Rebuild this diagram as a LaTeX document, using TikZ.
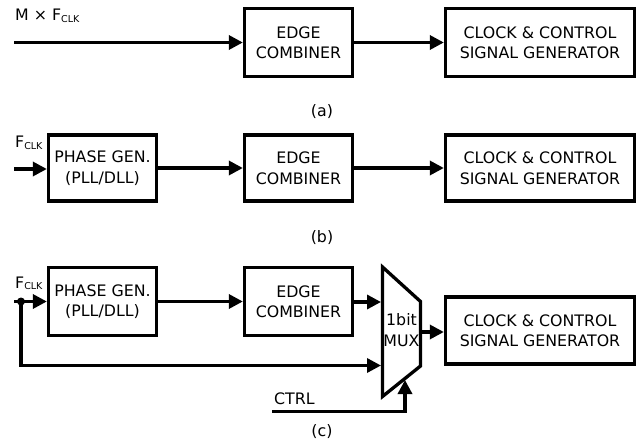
\documentclass[tikz,border=0pt]{standalone}
\usepackage{fontspec}
\setmainfont{DejaVu Sans}
\usetikzlibrary{arrows.meta}
\newcommand{\fclk}{F\raisebox{-1.5pt}{\fontsize{9.5}{9.5}\selectfont CLK}}
\tikzset{
  x=1pt, y=-1pt,
  blk/.style={draw, line width=3.3pt, align=center, inner sep=0pt,
              font=\fontsize{15.8}{20.5}\selectfont},
  wire/.style={line width=3.3pt, -{Triangle[length=14pt,width=14pt]}},
  plain/.style={line width=3.3pt},
  lbl/.style={font=\fontsize{15.8}{18}\selectfont, inner sep=0pt},
  caption/.style={font=\fontsize{15.8}{18}\selectfont, inner sep=0pt},
}
\begin{document}
\begin{tikzpicture}
\useasboundingbox (0,0) rectangle (641,444);

% ---------------- (a) ----------------
\coordinate (ina) at (14,42.5);
\node[blk, minimum width=108pt, minimum height=68pt] (eca) at (298.5,42.5) {EDGE\\COMBINER};
\node[blk, minimum width=189pt, minimum height=68pt] (cka) at (540,42.5) {CLOCK \& CONTROL\\SIGNAL GENERATOR};
\node[lbl, anchor=base west] (la) at (15,21) {M × \fclk};
\draw[wire] (ina) -- (eca.west);
\draw[wire] (eca.east) -- (cka.west);
\node[caption] (capa) at (322,112) {(a)};

% ---------------- (b) ----------------
\coordinate (inb) at (14,169);
\node[blk, minimum width=108pt, minimum height=66pt] (pgb) at (102.5,168) {PHASE GEN.\\(PLL/DLL)};
\node[blk, minimum width=108pt, minimum height=66pt] (ecb) at (298.5,168) {EDGE\\COMBINER};
\node[blk, minimum width=189pt, minimum height=66pt] (ckb) at (540,168) {CLOCK \& CONTROL\\SIGNAL GENERATOR};
\node[lbl, anchor=base west] (lb) at (15,148) {\fclk};
\draw[wire] (inb) -- (inb -| pgb.west);
\draw[wire] (pgb.east) -- (ecb.west);
\draw[wire] (ecb.east) -- (ckb.west);
\node[caption] (capb) at (322,238) {(b)};

% ---------------- (c) ----------------
\coordinate (inc) at (14,301.5);
\coordinate (tap) at (21,301.5);
\node[blk, minimum width=108pt, minimum height=68pt] (pgc) at (102.5,301.5) {PHASE GEN.\\(PLL/DLL)};
\node[blk, minimum width=108pt, minimum height=68pt] (ecc) at (298.5,301.5) {EDGE\\COMBINER};
\node[blk, minimum width=189pt, minimum height=67pt] (ckc) at (540,330.5) {CLOCK \& CONTROL\\SIGNAL GENERATOR};
\node[lbl, anchor=base west] (lc) at (15,288) {\fclk};

% 1-bit multiplexer (trapezoid)
\coordinate (mtl) at (382.5,267);
\coordinate (mtr) at (420.5,301.5);
\coordinate (mbr) at (420.5,366);
\coordinate (mbl) at (382.5,396.5);
\draw[plain, line join=miter] (mtl) -- (mtr) -- (mbr) -- (mbl) -- cycle;
\node[blk, draw=none] (mux) at (401.5,330) {1bit\\MUX};
\coordinate (muxa) at (381,302);
\coordinate (muxb) at (381,365.5);
\coordinate (muxo) at (422,332);
\coordinate (muxs) at (405,380);
\coordinate (ctrl) at (272,411.5);
\node[lbl, anchor=base west] (lctrl) at (274,404) {CTRL};

\draw[wire] (inc) -- (pgc.west);
\fill (tap) circle (4pt);
\draw[wire] (pgc.east) -- (ecc.west);
\draw[wire] (ecc.east |- muxa) -- (muxa);
\draw[wire] (tap) |- (muxb);
\draw[wire] (muxo) -- (muxo -| ckc.west);
\draw[wire] (ctrl) -| (muxs);
\node[caption] (capc) at (322,432) {(c)};
\end{tikzpicture}
\end{document}
